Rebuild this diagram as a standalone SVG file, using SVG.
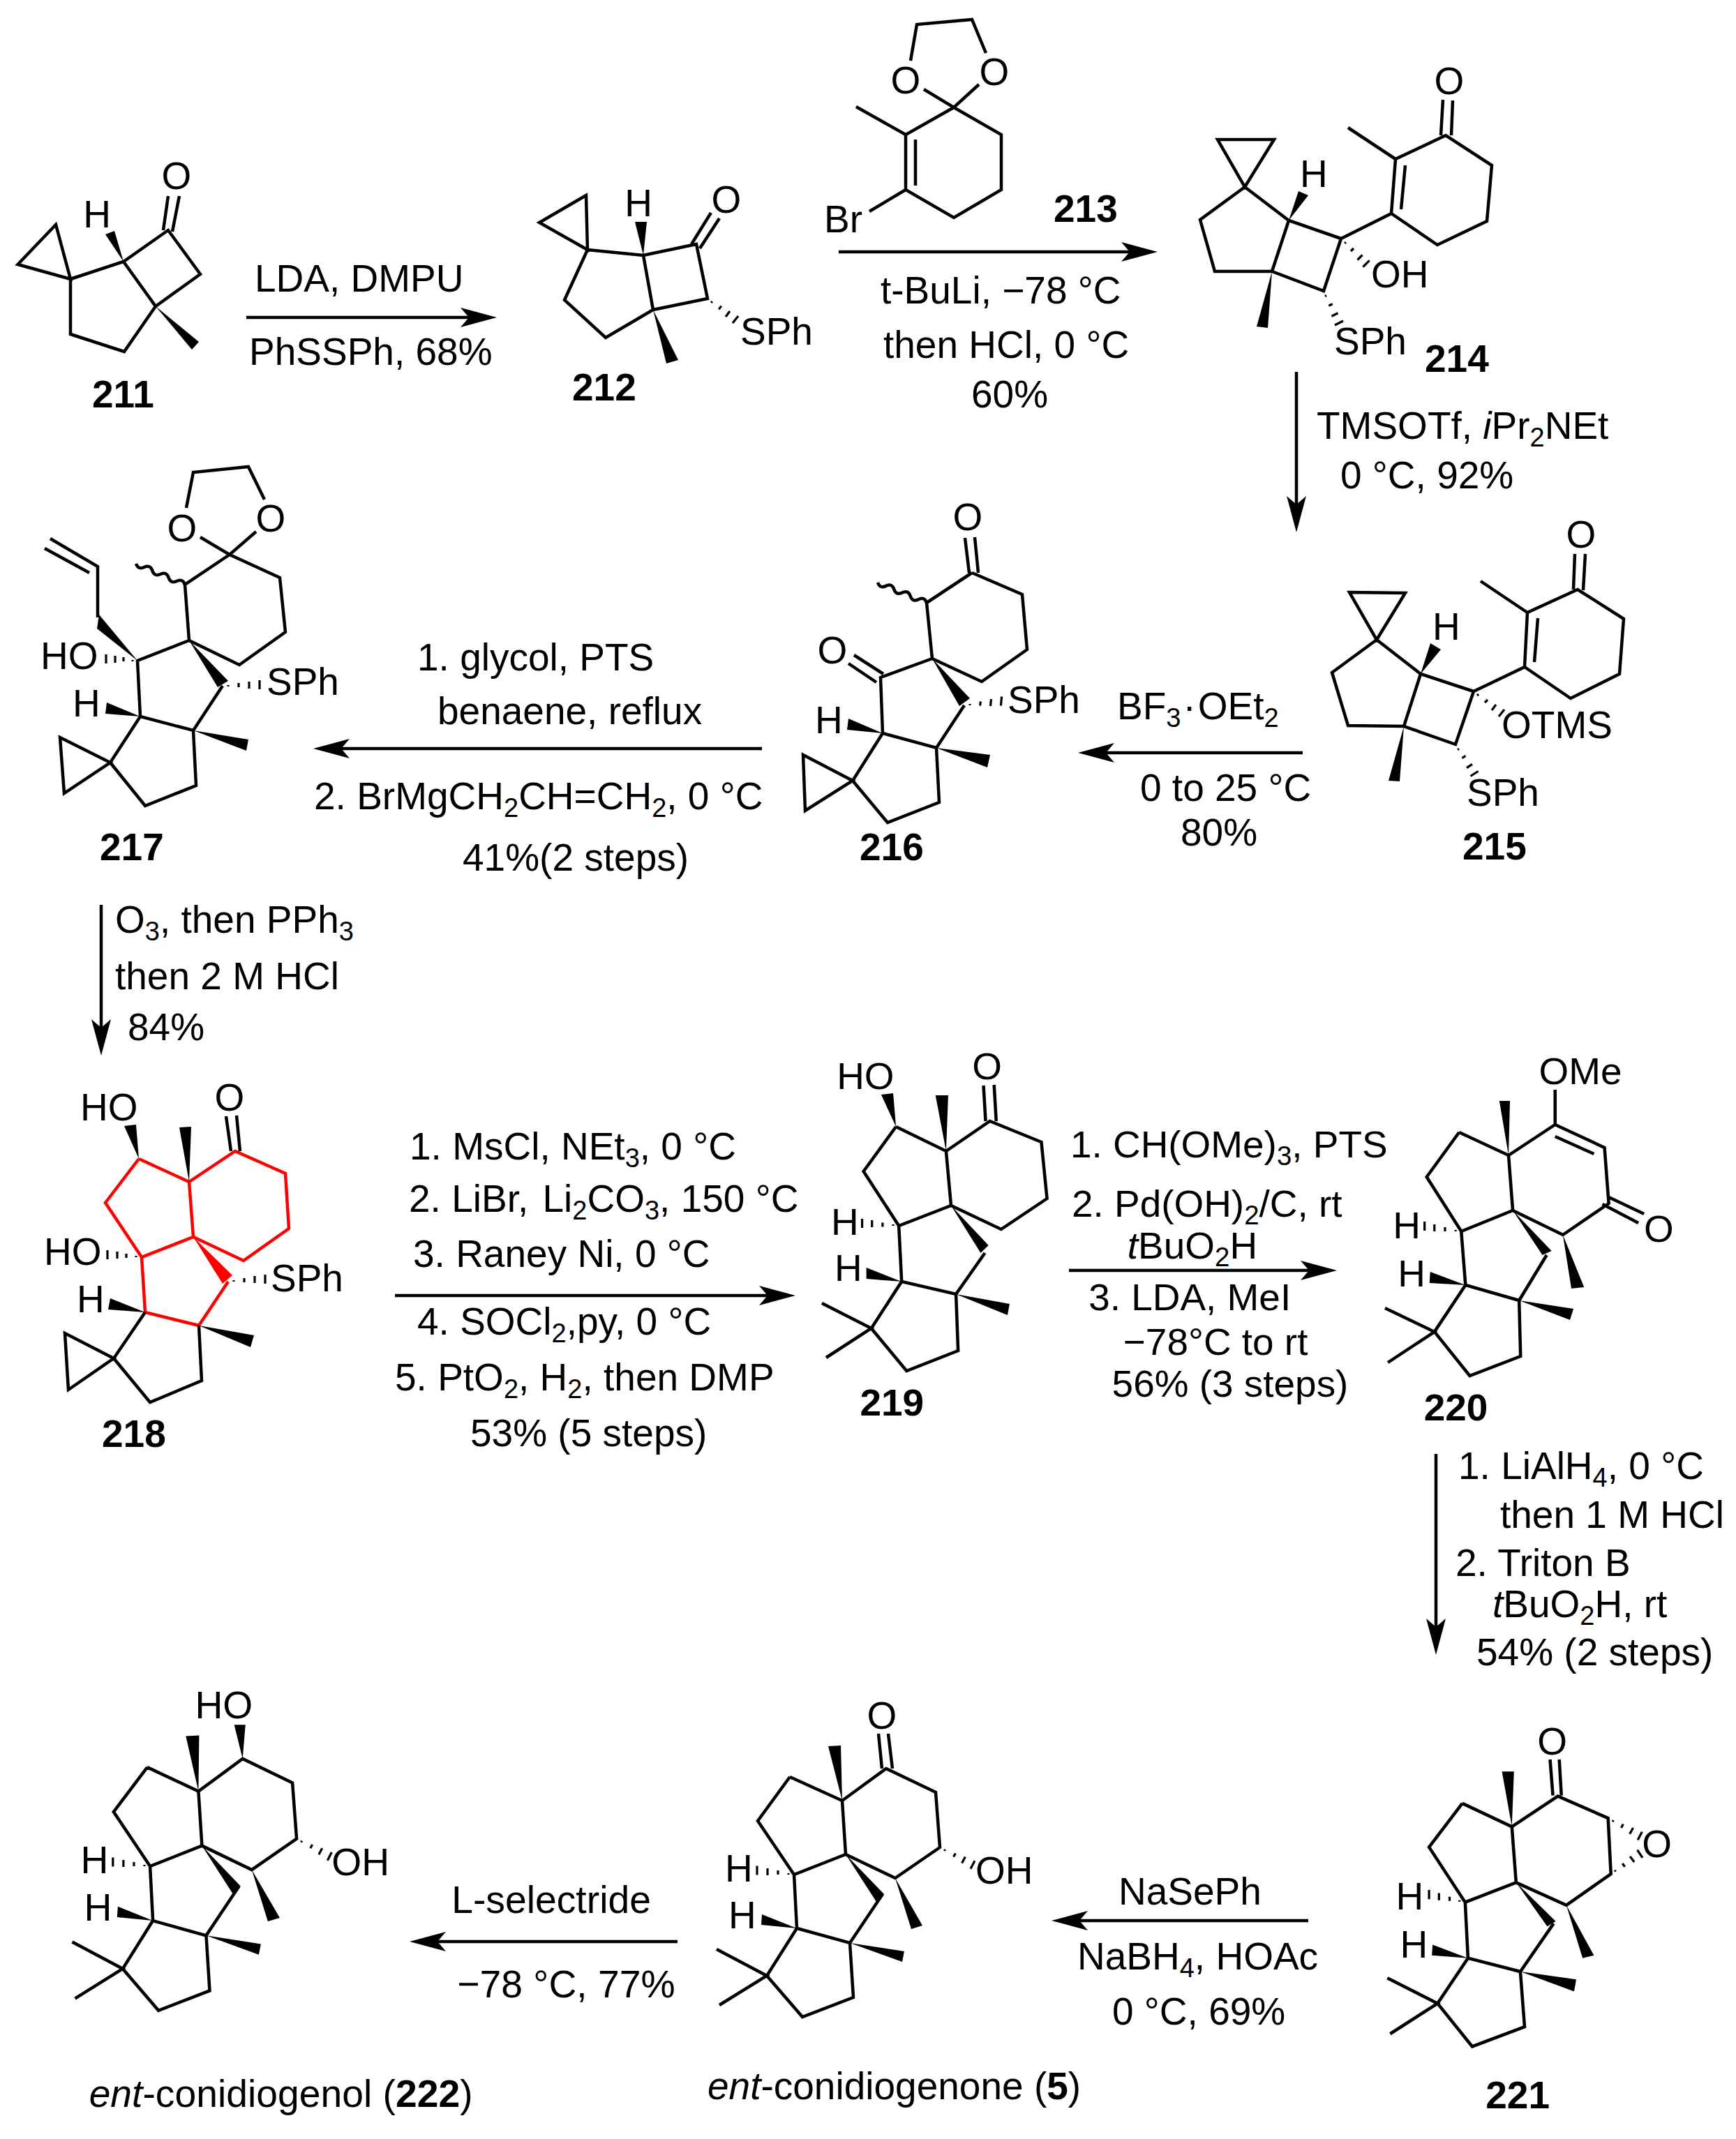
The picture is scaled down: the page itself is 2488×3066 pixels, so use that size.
<svg xmlns="http://www.w3.org/2000/svg" width="2488" height="3066" viewBox="0 0 2488 3066">
<style>
text{font-family:"Liberation Sans",Arial,sans-serif;font-size:55px;fill:#000}
.sc text{font-size:54.3px}
.c{text-anchor:middle}
.l{font-weight:bold}
.i{font-style:italic}
.s{font-size:38px}
.bd{fill:none;stroke:#000;stroke-width:4.5;stroke-linejoin:miter}
.w{fill:#000}
.h{fill:none;stroke:#000;stroke-width:3.2}
.r{fill:none;stroke:#f00;stroke-width:4.5}
.a{stroke:#000;stroke-width:4.5;fill:none;marker-end:url(#ah)}
</style>
<defs>
<marker id="ah" markerUnits="userSpaceOnUse" markerWidth="52" markerHeight="28" refX="42" refY="14" orient="auto"><path d="M52 14L0 0L12 14L0 28Z" fill="#000"/></marker>
</defs>
<rect width="2488" height="3066" fill="#fff"/>
<g id="connectors">
<line class="a" x1="353" y1="455" x2="702" y2="455"/>
<line class="a" x1="1202" y1="361" x2="1649" y2="361"/>
<line class="a" x1="1858" y1="533" x2="1858" y2="753"/>
<line class="a" x1="1867" y1="1079" x2="1555" y2="1079"/>
<line class="a" x1="1092" y1="1073" x2="459" y2="1073"/>
<line class="a" x1="145" y1="1297" x2="145" y2="1503"/>
<line class="a" x1="566" y1="1857" x2="1130" y2="1857"/>
<line class="a" x1="1532" y1="1821" x2="1906" y2="1821"/>
<line class="a" x1="2058" y1="2084" x2="2058" y2="2362"/>
<line class="a" x1="1875" y1="2753" x2="1517" y2="2753"/>
<line class="a" x1="971" y1="2783" x2="597" y2="2783"/>
</g>
<g id="mol-211">
<path class="bd" d="M80 322L25.5 379L101 400ZM101 400L177 375L241 330L287 393L223 439L177 375M223 439L178 504L101 479L101 400M234 330L241 281M247 332L257 281"/>
<polygon class="w" points="177,375 151,336 164,331"/><polygon class="w" points="223,439 275,501 285,490"/>
<text class="c" x="253" y="271">O</text><text class="c" x="139" y="326">H</text><text class="l" x="132" y="584">211</text>
</g>
<g id="cond-1">
<text x="365" y="418">LDA, DMPU</text><text x="357" y="523">PhSSPh, 68%</text>
</g>
<g id="mol-212">
<path class="bd" d="M840 280L773 319L842 358ZM842 358L922 366L998 350L1014 428L936 444L922 366M936 444L868 484L809 430L842 358M991 350L1019 305M1003 356L1031 313"/>
<polygon class="w" points="922,366 910,318 927,318"/><polygon class="w" points="936,444 955,521 972,516"/>
<path class="h" d="M1020.7 432L1019.3 434M1033.8 438.6L1030.2 443.4M1046 446L1040 454M1058 453L1050 463"/>
<text class="c" x="1041" y="305">O</text><text class="c" x="915" y="310">H</text><text x="1061" y="494">SPh</text><text class="l" x="820" y="574">212</text>
</g>
<g id="mol-213">
<path class="bd" d="M1305 87L1314 35L1393 28L1413 76M1324 128L1367 154L1403 121M1367 154L1435 193L1435 272L1367 312L1298 272L1298 193L1367 154M1312 200L1312 266M1298 193L1227 153M1298 272L1246 303"/>
<text class="c" x="1298" y="134">O</text><text class="c" x="1425" y="122">O</text><text x="1181" y="333">Br</text><text class="l" x="1510" y="318">213</text>
</g>
<g id="cond-2">
<text x="1262" y="435">t-BuLi, −78 °C</text><text x="1266" y="513">then HCl, 0 °C</text><text x="1392" y="584">60%</text>
</g>
<g id="mol-214">
<path class="bd" d="M1745 200L1826 200L1784 268ZM1784 268L1847 316L1922 342L1897 417L1823 389L1847 316M1823 389L1741 389L1720 315L1784 268M1922 342L1994 306L2000 228L2072 194L2138 237L2131 317L2060 351L1994 306M2008 300L2014 237M2000 228L1932 183M2065 194L2068 143M2080 194L2082 144"/>
<polygon class="w" points="1847,316 1861,274 1875,280"/><polygon class="w" points="1823,389 1801,468 1817,470"/>
<path class="h" d="M1928.8 347.2L1927.2 348.8M1940 356L1936 360M1952.5 365.5L1945.5 372.5M1962.6 373.4L1953.4 382.6M1901 423.5L1899 424.5M1909.7 435.7L1904.3 438.3M1917.5 448.8L1908.5 453.2M1925 460L1913 466"/>
<text class="c" x="2077" y="135">O</text><text x="1863" y="268">H</text><text x="1965" y="412">OH</text><text x="1912" y="508">SPh</text><text class="l" x="2042" y="533">214</text>
</g>
<g id="cond-3">
<text x="1887" y="629">TMSOTf, <tspan class="i">i</tspan>Pr<tspan class="s" dy="11">2</tspan><tspan dy="-11">NEt</tspan></text><text x="1921" y="700">0 °C, 92%</text>
</g>
<g id="mol-215">
<path class="bd" d="M1934 849L2014 850L1973 917ZM1973 917L2036 966L2112 991L2086 1067L2012 1041L2036 966M2012 1041L1932 1040L1909 964L1973 917M2112 991L2185 956L2189 878L2261 845L2327 887L2321 966L2251 1001L2185 956M2199 949L2204 886M2189 878L2122 833M2255 845L2257 794M2269 846L2272 794"/>
<polygon class="w" points="2036,966 2050,922 2065,931"/><polygon class="w" points="2012,1041 1990,1119 2006,1120"/>
<path class="h" d="M2119 995L2117 997M2132 1003L2128 1007M2144 1010L2138 1018M2156 1017L2148 1027M2091 1073.4L2089 1074.6M2100.5 1083.4L2095.5 1086.6M2110 1095.3L2102 1100.7M2118.5 1105.5L2107.5 1112.5"/>
<text class="c" x="2266" y="785">O</text><text x="2053" y="917">H</text><text x="2152" y="1058">OTMS</text><text x="2102" y="1155">SPh</text><text class="l" x="2096" y="1232">215</text>
</g>
<g id="cond-4">
<text x="1601" y="1031">BF<tspan class="s" dy="11">3</tspan><tspan dy="-11" dx="3">·</tspan><tspan dx="3">OEt</tspan><tspan class="s" dy="11">2</tspan></text><text x="1634" y="1148">0 to 25 °C</text><text x="1692" y="1212">80%</text>
</g>
<g id="mol-216">
<path class="bd" d="M1393 821L1465 852L1472 931L1407 977L1336 944L1328 864L1393 821M1336 944L1262 971L1265 1051L1342 1072L1382 1011M1265 1051L1222 1119L1272 1179L1346 1150L1342 1072M1151 1082L1154 1162L1222 1119ZM1383 771L1389 821M1397 770L1402 821M1216 951L1256 978M1224 939L1266 966"/>
<path class="bd" d="M1328 864q-3 -9 -11.67 -4.83t-11.67 -4.83t-11.67 -4.83t-11.67 -4.83t-11.67 -4.83t-11.67 -4.83"/>
<polygon class="w" points="1336,944 1375,1012 1390,1001"/><polygon class="w" points="1342,1072 1419,1082 1415,1100"/><polygon class="w" points="1265,1051 1216,1030 1214,1046"/>
<path class="h" d="M1390 1009L1390 1011M1405.3 1005.5L1404.7 1011.5M1420.5 1002L1419.5 1012M1435.6 998.5L1434.4 1011.5"/>
<text class="c" x="1387" y="760">O</text><text class="c" x="1193" y="951">O</text><text x="1168" y="1051">H</text><text x="1444" y="1022">SPh</text><text class="l" x="1232" y="1233">216</text>
</g>
<g id="cond-5">
<text x="598" y="961">1. glycol, PTS</text><text x="627" y="1038">benaene, reflux</text>
<text x="450" y="1160">2. BrMgCH<tspan class="s" dy="11">2</tspan><tspan dy="-11">CH=CH</tspan><tspan class="s" dy="11">2</tspan><tspan dy="-11">, 0 °C</tspan></text><text x="663" y="1248">41%(2 steps)</text>
</g>
<g id="mol-217">
<path class="bd" d="M267 728L277 677L356 669L379 716M287 770L329 795L367 762M329 795L401 828L409 906L343 953L271 918L265 838L329 795M271 918L197 947L201 1027L277 1047L319 983M201 1027L158 1093L208 1155L281 1126L277 1047M86 1057L92 1137L158 1093ZM140 885L140 812L72 772M128 821L64 786"/>
<path class="bd" d="M265 838q-3 -9 -11.67 -5t-11.67 -5t-11.67 -5t-11.67 -5t-11.67 -5t-11.67 -5"/>
<polygon class="w" points="197,947 142,881 139,901"/><polygon class="w" points="271,918 312,985 327,976"/><polygon class="w" points="277,1047 356,1060 353,1076"/><polygon class="w" points="201,1027 153,1007 151,1023"/>
<path class="h" d="M190 946L190 948M177 942L177 948M165 940L165 950M152 938L152 951M327 982L327 984M342 979L342 985M357 977L357 987M372 975L372 988"/>
<text class="c" x="261" y="776">O</text><text class="c" x="388" y="762">O</text><text x="58" y="959">HO</text><text x="382" y="996">SPh</text><text x="104" y="1027">H</text><text class="l" x="143" y="1233">217</text>
</g>
<g id="cond-6">
<text x="165" y="1337">O<tspan class="s" dy="11">3</tspan><tspan dy="-11">, then PPh</tspan><tspan class="s" dy="11">3</tspan></text><text x="165" y="1418">then 2 M HCl</text><text x="183" y="1491">84%</text>
</g>
<g id="mol-218">
<path class="r" d="M199 1661L271 1694L337 1650L409 1682L414 1761L349 1807L277 1773L271 1694M199 1661L151 1724L203 1802L277 1773M203 1802L208 1881L285 1900L327 1837"/>
<polygon points="277,1773 319,1840 333,1828" fill="#f00"/>
<path class="bd" d="M208 1881L163 1947L215 2010L289 1979L285 1900M93 1911L98 1992L163 1947ZM324 1600L331 1650M339 1599L344 1650"/>
<polygon class="w" points="199,1661 178,1614 195,1612"/><polygon class="w" points="271,1694 257,1616 274,1615"/><polygon class="w" points="285,1900 364,1914 359,1931"/><polygon class="w" points="208,1881 158,1861 155,1877"/>
<path class="h" d="M195 1800L195 1802M181 1797L181 1803M168 1794L168 1804M154 1792L154 1805M335 1835L335 1837M350 1832L350 1838M365 1829L365 1839M380 1827L380 1840"/>
<text class="c" x="329" y="1592">O</text><text x="115" y="1606">HO</text><text x="63" y="1813">HO</text><text x="388" y="1851">SPh</text><text x="110" y="1881">H</text><text class="l" x="146" y="2074">218</text>
</g>
<g id="cond-7">
<text x="587" y="1662">1. MsCl, NEt<tspan class="s" dy="11">3</tspan><tspan dy="-11">, 0 °C</tspan></text>
<text x="586" y="1737">2. LiBr, <tspan dx="5">Li</tspan><tspan class="s" dy="11">2</tspan><tspan dy="-11">CO</tspan><tspan class="s" dy="11">3</tspan><tspan dy="-11">, 150 °C</tspan></text>
<text x="592" y="1816">3. Raney Ni, 0 °C</text>
<text x="598" y="1913">4. SOCl<tspan class="s" dy="11">2</tspan><tspan dy="-11">,py, 0 °C</tspan></text>
<text x="566" y="1993">5. PtO<tspan class="s" dy="11">2</tspan><tspan dy="-11">, H</tspan><tspan class="s" dy="11">2</tspan><tspan dy="-11">, then DMP</tspan></text>
<text x="674" y="2073">53% (5 steps)</text>
</g>
<g id="mol-219" class="sc" transform="matrix(1.0114 0 0 1 -12.5 0)">
<path class="bd" d="M1282 1615L1353 1650L1415 1607L1488 1637L1496 1718L1431 1762L1360 1728L1353 1650M1282 1615L1236 1679L1286 1757L1360 1728M1286 1757L1290 1837L1367 1855L1408 1796M1290 1837L1247 1904L1297 1965L1370 1936L1367 1855M1177 1868L1247 1904L1183 1946M1406 1556L1409 1607M1421 1555L1424 1607"/>
<polygon class="w" points="1282,1615 1261,1569 1278,1567"/><polygon class="w" points="1353,1650 1338,1570 1356,1570"/><polygon class="w" points="1290,1837 1240,1817 1240,1833"/><polygon class="w" points="1360,1728 1402,1796 1413,1785"/><polygon class="w" points="1367,1855 1443,1869 1440,1885"/>
<path class="h" d="M1278 1755L1278 1757M1263 1752.5L1263 1758.5M1248 1749L1248 1759M1234 1747L1234 1760"/>
<text class="c" x="1411" y="1547">O</text><text x="1198" y="1561">HO</text><text x="1190" y="1770">H</text><text x="1195" y="1836">H</text><text class="l" x="1231" y="2029">219</text>
</g>
<g id="cond-8" class="sc" transform="matrix(1.0114 0 0 1 -12.5 0)">
<text x="1529" y="1659">1. CH(OMe)<tspan class="s" dy="11">3</tspan><tspan dy="-11">, PTS</tspan></text>
<text x="1531" y="1744">2. Pd(OH)<tspan class="s" dy="11">2</tspan><tspan dy="-11">/C, rt</tspan></text>
<text x="1610" y="1804"><tspan class="i">t</tspan>BuO<tspan class="s" dy="11">2</tspan><tspan dy="-11">H</tspan></text>
<text x="1555" y="1878">3. LDA, MeI</text><text x="1604" y="1942">−78°C to rt</text><text x="1588" y="2002">56% (3 steps)</text>
</g>
<g id="mol-220" class="sc" transform="matrix(1.0114 0 0 1 -12.5 0)">
<path class="bd" d="M2080 1623L2150 1656L2216 1612L2286 1645L2292 1725L2227 1770L2156 1735L2150 1656M2080 1623L2034 1687L2083 1765L2156 1735M2216 1629L2271 1654M2216 1612L2216 1562M2292 1716L2342 1740M2283 1726L2334 1753M2083 1765L2089 1842L2165 1864L2204 1799M2089 1842L2045 1909L2095 1972L2167 1944L2165 1864M1975 1875L2045 1909L1979 1953"/>
<polygon class="w" points="2150,1656 2137,1578 2152,1578"/><polygon class="w" points="2227,1770 2239,1847 2257,1845"/><polygon class="w" points="2089,1842 2039,1823 2038,1839"/><polygon class="w" points="2156,1735 2198,1799 2211,1793"/><polygon class="w" points="2165,1864 2242,1876 2237,1892"/>
<path class="h" d="M2075 1763L2075 1765M2060 1759L2060 1765M2045 1755L2045 1765M2031 1751L2031 1764"/>
<text x="2193" y="1554">OMe</text><text class="c" x="2363" y="1780">O</text><text x="1986" y="1775">H</text><text x="1993" y="1844">H</text><text class="l" x="2030" y="2036">220</text>
</g>
<g id="cond-9">
<text x="2090" y="2120">1. LiAlH<tspan class="s" dy="11">4</tspan><tspan dy="-11">, 0 °C</tspan></text><text x="2150" y="2190">then 1 M HCl</text><text x="2086" y="2259">2. Triton B</text>
<text x="2139" y="2318"><tspan class="i">t</tspan>BuO<tspan class="s" dy="11">2</tspan><tspan dy="-11">H, rt</tspan></text><text x="2116" y="2387">54% (2 steps)</text>
</g>
<g id="mol-221" class="sc" transform="matrix(1.014 0 0 1.0135 -17.4 -31)">
<path class="bd" d="M2084 2581L2154 2614L2219 2571L2290 2602L2294 2681L2231 2725L2160 2693L2154 2614M2084 2581L2037 2643L2088 2721L2160 2693M2088 2721L2092 2800L2166 2819L2213 2751M2092 2800L2049 2864L2098 2925L2172 2897L2166 2819M1978 2828L2049 2864L1982 2907M2208 2519L2212 2570M2221 2519L2224 2570"/>
<polygon class="w" points="2154,2614 2140,2536 2157,2536"/><polygon class="w" points="2231,2725 2254,2800 2270,2796"/><polygon class="w" points="2092,2800 2042,2781 2041,2796"/><polygon class="w" points="2160,2693 2204,2755 2216,2748"/><polygon class="w" points="2166,2819 2245,2830 2242,2847"/>
<path class="h" d="M2080 2718L2080 2720M2066 2713L2066 2719M2051 2708L2051 2718M2037 2703.5L2037 2716.5M2297.6 2605L2296.4 2607M2311.4 2610.4L2308.6 2615.6M2325.4 2615.6L2320.6 2624.4M2338 2621.3L2332 2632.7M2299.3 2675.5L2300.7 2677.5M2310.3 2666L2313.7 2670.8M2321 2656L2327 2664M2331.3 2647L2338.7 2658"/>
<text class="c" x="2211" y="2512">O</text><text class="c" x="2359" y="2657">O</text><text x="1990" y="2731">H</text><text x="1996" y="2799">H</text><text class="l" x="2117" y="3012">221</text>
</g>
<g id="cond-10" transform="translate(4 6)"><text x="1599" y="2724">NaSePh</text><text x="1540" y="2817">NaBH<tspan class="s" dy="11">4</tspan><tspan dy="-11">, HOAc</tspan></text><text x="1590" y="2896">0 °C, 69%</text></g>
<g id="mol-5" transform="translate(2 6)">
<path class="bd" d="M1130 2541L1205 2575L1268 2529L1339 2563L1345 2642L1281 2686L1210 2652L1205 2575M1130 2541L1084 2604L1136 2681L1210 2652M1136 2681L1140 2758L1216 2779L1263 2709M1140 2758L1097 2826L1148 2885L1221 2857L1216 2779M1025 2788L1097 2826L1029 2868M1257 2479L1262 2529M1271 2479L1277 2529"/>
<polygon class="w" points="1205,2575 1185,2497 1203,2496"/><polygon class="w" points="1281,2686 1304,2759 1320,2754"/><polygon class="w" points="1140,2758 1090,2738 1089,2753"/><polygon class="w" points="1210,2652 1254,2720 1265,2709"/><polygon class="w" points="1216,2779 1294,2791 1291,2806"/>
<path class="h" transform="translate(922 11)" d="M206 2668L206 2670M191 2664L191 2670M176 2661L176 2671M161 2657.5L161 2670.5M430.6 2634L429.4 2636M445.4 2639.4L442.6 2644.6M459.4 2644.6L454.6 2653.4M473 2650.3L467 2661.7"/>
<text class="c" x="1262" y="2472">O</text><text x="1396" y="2694">OH</text><text x="1037" y="2691">H</text><text x="1042" y="2758">H</text>
<text x="1012" y="3003"><tspan class="i">ent</tspan>-conidiogenone (<tspan class="l">5</tspan>)</text>
</g>
<g id="cond-11" transform="matrix(1.005 0 0 1.0135 0 -31)"><text x="644" y="2736">L-selectride</text><text x="652" y="2855">−78 °C, 77%</text></g>
<g id="mol-222" transform="matrix(1.005 0 0 1.0135 0 -31)">
<path class="bd" d="M210 2530L283 2564L346 2518L417 2552L423 2631L359 2675L288 2641L283 2564M210 2530L162 2593L214 2670L288 2641M214 2670L218 2747L294 2768L341 2698M218 2747L175 2815L226 2874L299 2846L294 2768M103 2777L175 2815L107 2857"/>
<polygon class="w" points="346,2518 334,2470 350,2470"/><polygon class="w" points="283,2564 265,2486 284,2485"/><polygon class="w" points="359,2675 382,2748 399,2743"/><polygon class="w" points="218,2747 168,2727 167,2742"/><polygon class="w" points="288,2641 332,2709 343,2698"/><polygon class="w" points="294,2768 372,2780 369,2795"/>
<path class="h" d="M206 2668L206 2670M191 2664L191 2670M176 2661L176 2671M161 2657.5L161 2670.5M430.6 2634L429.4 2636M445.4 2639.4L442.6 2644.6M459.4 2644.6L454.6 2653.4M473 2650.3L467 2661.7"/>
<text x="278" y="2461">HO</text><text x="473" y="2683">OH</text><text x="115" y="2680">H</text><text x="120" y="2747">H</text>
<text x="127" y="3010"><tspan class="i">ent</tspan>-conidiogenol (<tspan class="l">222</tspan>)</text>
</g>
</svg>
